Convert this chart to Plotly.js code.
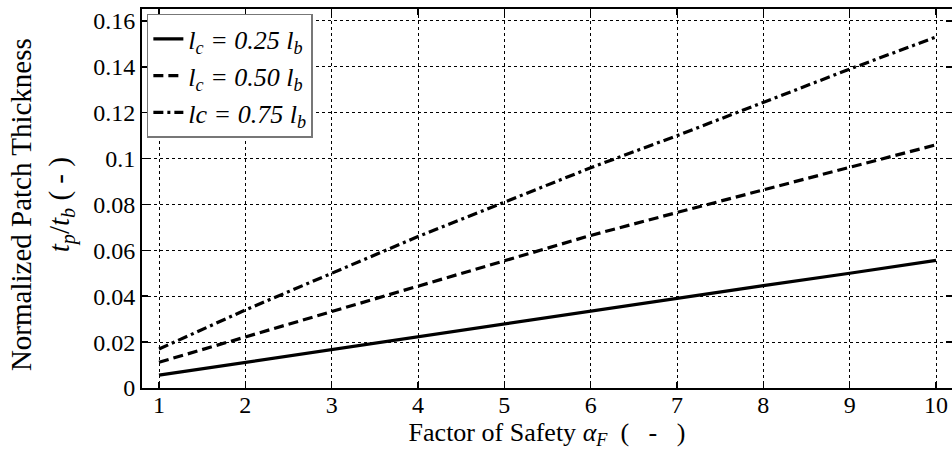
<!DOCTYPE html>
<html>
<head>
<meta charset="utf-8">
<script src="https://cdn.plot.ly/plotly-3.0.1.min.js"></script>
<style>html,body{margin:0;padding:0;background:#fff;}#chart{width:952px;height:452px;}</style>
</head>
<body>
<div id="chart"></div>
<script>
const factorOfSafety = [1, 2, 3, 4, 5, 6, 7, 8, 9, 10];
const lc025 = [0.0056, 0.0112, 0.0168, 0.0224, 0.0280, 0.0336, 0.0390, 0.0446, 0.0500, 0.0556];
const lc050 = [0.0112, 0.0223, 0.0335, 0.0446, 0.0555, 0.0665, 0.0765, 0.0862, 0.0962, 0.1060];
const lc075 = [0.0170, 0.0340, 0.0500, 0.0660, 0.0810, 0.0960, 0.1100, 0.1245, 0.1390, 0.1530];
const seriesNames = [
  '<i>l</i><sub><i>c</i></sub><i> = 0.25 l</i><sub><i>b</i></sub>',
  '<i>l</i><sub><i>c</i></sub><i> = 0.50 l</i><sub><i>b</i></sub>',
  '<i>lc = 0.75 l</i><sub><i>b</i></sub>'
];
const xTicks = [1, 2, 3, 4, 5, 6, 7, 8, 9, 10];
const yTicks = [0, 0.02, 0.04, 0.06, 0.08, 0.1, 0.12, 0.14, 0.16];
const yTickText = ['0', '0.02', '0.04', '0.06', '0.08', '0.1', '0.12', '0.14', '0.16'];
const xTitle = 'Factor of Safety <i>α</i><sub><i>F</i></sub>&nbsp;&nbsp;(&nbsp;&nbsp;&nbsp;-&nbsp;&nbsp;&nbsp;)';
const yTitle = 'Normalized Patch Thickness<br><i>t</i><sub><i>p</i></sub>/<i>t</i><sub><i>b</i></sub>&nbsp;(&nbsp;-&nbsp;)';

const font = 'Liberation Serif, Times New Roman, serif';
const traces = [
  {x: factorOfSafety, y: lc025, name: seriesNames[0], mode: 'lines', line: {color: '#000', width: 3.2, dash: 'solid'}},
  {x: factorOfSafety, y: lc050, name: seriesNames[1], mode: 'lines', line: {color: '#000', width: 3.2, dash: '10px,5px'}},
  {x: factorOfSafety, y: lc075, name: seriesNames[2], mode: 'lines', line: {color: '#000', width: 3.2, dash: '10px,4px,3px,4px'}}
];
const axisCommon = {
  showline: true, linecolor: '#000', linewidth: 2, mirror: 'ticks',
  ticks: 'inside', ticklen: 6, tickwidth: 1.5, tickcolor: '#000',
  showgrid: true, gridcolor: '#000', gridwidth: 1, griddash: 'dot',
  zeroline: false, tickfont: {family: font, size: 24, color: '#000'}
};
const layout = {
  width: 952, height: 452,
  margin: {l: 142, r: 0, t: 9, b: 64},
  paper_bgcolor: '#fff', plot_bgcolor: '#fff',
  font: {family: font, color: '#000'},
  showlegend: true,
  legend: {
    x: 0.006, y: 0.987, xanchor: 'left', yanchor: 'top',
    bgcolor: '#fff', bordercolor: '#777', borderwidth: 1.5,
    font: {family: font, size: 26, color: '#000'},
    itemwidth: 30, tracegroupgap: 0
  },
  xaxis: Object.assign({}, axisCommon, {
    range: [0.803, 10.185], tickvals: xTicks, ticklabelstandoff: -6,
    title: {text: xTitle, font: {family: font, size: 26, color: '#000'}, standoff: 0}
  }),
  yaxis: Object.assign({}, axisCommon, {
    range: [0, 0.1652], tickvals: yTicks, ticktext: yTickText
  }),
  annotations: [{
    text: yTitle, textangle: -90, showarrow: false,
    xref: 'paper', yref: 'paper', x: -0.122, y: 0.483,
    xanchor: 'center', yanchor: 'middle',
    font: {family: font, size: 29, color: '#000'}
  }]
};
Plotly.newPlot('chart', traces, layout, {displayModeBar: false, staticPlot: true});
</script>
</body>
</html>
